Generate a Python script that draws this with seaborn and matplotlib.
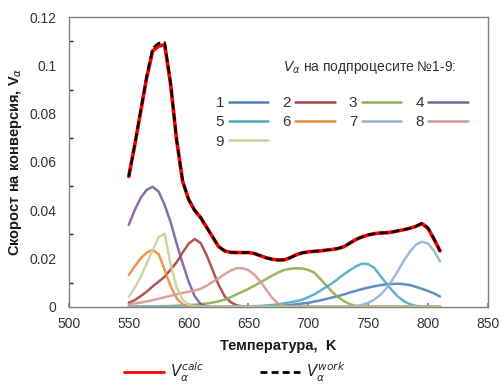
import matplotlib
matplotlib.use('Agg')
import matplotlib.pyplot as plt
from matplotlib.lines import Line2D
from matplotlib.ticker import MultipleLocator
import seaborn as sns
import pandas as pd

# temperature grid, K
temps = [550, 555, 560, 565, 570, 575, 580, 585, 590, 595,
         600, 605, 610, 615, 620, 625, 630, 635, 640, 645,
         650, 655, 660, 665, 670, 675, 680, 685, 690, 695,
         700, 705, 710, 715, 720, 725, 730, 735, 740, 745,
         750, 755, 760, 765, 770, 775, 780, 785, 790, 795,
         800, 805, 810]

# rates of the sub-processes 1-9
v1 = [0, 0, 0, 0, 0, 0, 0, 0, 0, 0,
      0, 0, 0, 0, 0, 0, 0, 0.0001, 0.0001, 0.0001,
      0.0001, 0.0002, 0.0002, 0.0003, 0.0003, 0.0005, 0.0006, 0.0008, 0.0011, 0.0014,
      0.0017, 0.0022, 0.0027, 0.0033, 0.0039, 0.0045, 0.0052, 0.0060, 0.0067, 0.0074,
      0.0080, 0.0085, 0.0090, 0.0093, 0.0095, 0.0096, 0.0094, 0.0090, 0.0083, 0.0075,
      0.0066, 0.0056, 0.0043]
v2 = [0.0017, 0.0028, 0.0045, 0.0063, 0.0085, 0.0105, 0.0125, 0.0155, 0.0185, 0.0225,
      0.0262, 0.0281, 0.0265, 0.0215, 0.0153, 0.0092, 0.0045, 0.0020, 0.0007, 0.0002,
      0, 0, 0, 0, 0, 0, 0, 0, 0, 0,
      0, 0, 0, 0, 0, 0, 0, 0, 0, 0,
      0, 0, 0, 0, 0, 0, 0, 0, 0, 0,
      0, 0, 0]
v3 = [0.0001, 0.0001, 0.0001, 0.0002, 0.0002, 0.0003, 0.0003, 0.0004, 0.0005, 0.0006,
      0.0007, 0.0009, 0.0011, 0.0014, 0.0018, 0.0023, 0.0030, 0.0040, 0.0052, 0.0063,
      0.0075, 0.0088, 0.0102, 0.0116, 0.0130, 0.0143, 0.0153, 0.0158, 0.0160, 0.0159,
      0.0153, 0.0142, 0.0116, 0.0088, 0.0062, 0.0040, 0.0023, 0.0011, 0.0004, 0.0001,
      0, 0, 0, 0, 0, 0, 0, 0, 0, 0,
      0, 0, 0]
v4 = [0.0340, 0.0401, 0.0452, 0.0485, 0.0497, 0.0477, 0.0422, 0.0350, 0.0262, 0.0180,
      0.0105, 0.0045, 0.0012, 0.0002, 0, 0, 0, 0, 0, 0,
      0, 0, 0, 0, 0, 0, 0, 0, 0, 0,
      0, 0, 0, 0, 0, 0, 0, 0, 0, 0,
      0, 0, 0, 0, 0, 0, 0, 0, 0, 0,
      0, 0, 0]
v5 = [0, 0, 0, 0, 0, 0, 0, 0, 0, 0,
      0, 0, 0, 0, 0, 0, 0, 0, 0.0001, 0.0001,
      0.0002, 0.0003, 0.0004, 0.0006, 0.0008, 0.0011, 0.0015, 0.0019, 0.0024, 0.0030,
      0.0040, 0.0052, 0.0067, 0.0083, 0.0098, 0.0117, 0.0136, 0.0153, 0.0168, 0.0179,
      0.0177, 0.0162, 0.0130, 0.0098, 0.0068, 0.0042, 0.0023, 0.0011, 0.0004, 0.0001,
      0, 0, 0]
v6 = [0.0132, 0.0168, 0.0201, 0.0225, 0.0236, 0.0218, 0.0153, 0.0085, 0.0036, 0.0011,
      0.0002, 0, 0, 0, 0, 0, 0, 0, 0, 0,
      0, 0, 0, 0, 0, 0, 0, 0, 0, 0,
      0, 0, 0, 0, 0, 0, 0, 0, 0, 0,
      0, 0, 0, 0, 0, 0, 0, 0, 0, 0,
      0, 0, 0]
v7 = [0, 0, 0, 0, 0, 0, 0, 0, 0, 0,
      0, 0, 0, 0, 0, 0, 0, 0, 0, 0,
      0, 0, 0, 0, 0, 0, 0, 0, 0, 0,
      0, 0, 0, 0, 0.0001, 0.0001, 0.0002, 0.0002, 0.0004, 0.0009,
      0.0017, 0.0030, 0.0049, 0.0076, 0.0111, 0.0151, 0.0193, 0.0230, 0.0258, 0.0270,
      0.0262, 0.0232, 0.0188]
v8 = [0.0010, 0.0014, 0.0018, 0.0023, 0.0028, 0.0034, 0.0040, 0.0046, 0.0052, 0.0058,
      0.0063, 0.0068, 0.0075, 0.0088, 0.0103, 0.0118, 0.0135, 0.0150, 0.0160, 0.0160,
      0.0152, 0.0133, 0.0105, 0.0070, 0.0036, 0.0013, 0.0003, 0, 0, 0,
      0, 0, 0, 0, 0, 0, 0, 0, 0, 0,
      0, 0, 0, 0, 0, 0, 0, 0, 0, 0,
      0, 0, 0]
v9 = [0.0041, 0.0080, 0.0125, 0.0180, 0.0235, 0.0290, 0.0303, 0.0175, 0.0080, 0.0030,
      0.0008, 0.0001, 0, 0, 0, 0, 0, 0, 0, 0,
      0, 0, 0, 0, 0, 0, 0, 0, 0, 0,
      0, 0, 0, 0, 0, 0, 0, 0, 0, 0,
      0, 0, 0, 0, 0, 0, 0, 0, 0, 0,
      0, 0, 0]

# total rate: calculated and experimental
v_calc = [0.0540, 0.0670, 0.0810, 0.0950, 0.1060, 0.1080, 0.1085, 0.0920, 0.0690, 0.0520,
          0.0445, 0.0400, 0.0370, 0.0330, 0.0290, 0.0250, 0.0232, 0.0226, 0.0225, 0.0225,
          0.0225, 0.0221, 0.0212, 0.0203, 0.0197, 0.0194, 0.0195, 0.0204, 0.0216, 0.0224,
          0.0228, 0.0230, 0.0232, 0.0235, 0.0238, 0.0242, 0.0250, 0.0265, 0.0280, 0.0290,
          0.0298, 0.0303, 0.0306, 0.0307, 0.0310, 0.0315, 0.0320, 0.0326, 0.0334, 0.0345,
          0.0325, 0.0280, 0.0232]
v_work = [0.0540, 0.0672, 0.0815, 0.0955, 0.1072, 0.1092, 0.1095, 0.0925, 0.0690, 0.0520,
          0.0445, 0.0400, 0.0370, 0.0330, 0.0290, 0.0250, 0.0232, 0.0226, 0.0225, 0.0225,
          0.0225, 0.0221, 0.0212, 0.0203, 0.0197, 0.0194, 0.0195, 0.0204, 0.0216, 0.0224,
          0.0228, 0.0230, 0.0232, 0.0235, 0.0238, 0.0242, 0.0250, 0.0265, 0.0280, 0.0290,
          0.0298, 0.0303, 0.0306, 0.0307, 0.0310, 0.0315, 0.0320, 0.0326, 0.0334, 0.0347,
          0.0327, 0.0282, 0.0230]

names = ['1', '2', '3', '4', '5', '6', '7', '8', '9']
colors = ['#4F81BD', '#A8423F', '#8DB04E', '#7B5FA0', '#4BACC6',
          '#F08A3C', '#95B3D7', '#D99694', '#C3D69B']
series = [v1, v2, v3, v4, v5, v6, v7, v8, v9]

sns.set_theme(style='white')
plt.rcParams['font.family'] = ['Liberation Sans', 'DejaVu Sans']

fig = plt.figure(figsize=(5.03, 3.88), dpi=100)
ax = fig.add_axes([0.137, 0.209, 0.833, 0.747])

handles = []
for name, vals, c in zip(names, series, colors):
    df = pd.DataFrame({'T': temps, 'V': vals})
    sns.lineplot(data=df, x='T', y='V', color=c, lw=1.8, alpha=0.9, ax=ax)
    handles.append(Line2D([], [], color=c, lw=1.8))

sns.lineplot(x=temps, y=v_calc, color='#FF0000', lw=2.6, ax=ax)
sns.lineplot(x=temps, y=v_work, color='black', lw=1.8, dashes=False,
             linestyle=(0, (3.2, 1.6)), ax=ax)

ax.set_xlim(500, 850)
ax.set_ylim(0, 0.12)
ax.xaxis.set_major_locator(MultipleLocator(50))
ax.yaxis.set_minor_locator(MultipleLocator(0.01))
ax.set_yticks([0, 0.02, 0.04, 0.06, 0.08, 0.1, 0.12])
ax.set_yticklabels(['0', '0.02', '0.04', '0.06', '0.08', '0.1', '0.12'])
ax.tick_params(axis='both', labelsize=10, colors='#808080', labelcolor='#333333')
ax.tick_params(axis='x', direction='in', length=3, bottom=True, pad=7)
ax.tick_params(axis='y', which='major', length=0, left=True, pad=9)
ax.tick_params(axis='y', which='minor', direction='in', length=3, left=True)
for s in ax.spines.values():
    s.set_color('#808080')
    s.set_linewidth(1)

ax.set_xlabel('Температура,  K', fontsize=10.5, fontweight='bold', color='#1a1a1a', labelpad=6)
ax.set_ylabel(r'Скорост на конверсия, V$_\alpha$', fontsize=10.5, fontweight='bold',
              color='#1a1a1a', labelpad=4)

ax.text(0.51, 0.825, r'$V_\alpha$ на подпроцесите №1-9:', transform=ax.transAxes,
        fontsize=10, color='#333333', va='center', ha='left')

order = [0, 4, 8, 1, 5, 2, 6, 3, 7]
leg = ax.legend([handles[i] for i in order], [names[i] for i in order],
                ncol=4, markerfirst=False, frameon=False, loc='upper left',
                bbox_to_anchor=(0.35, 0.728), borderaxespad=0, borderpad=0,
                fontsize=11, handlelength=2.6, handletextpad=0.3,
                columnspacing=0.9, labelspacing=0.35)
for t in leg.get_texts():
    t.set_color('#333333')

calc_h = Line2D([], [], color='#FF0000', lw=2)
work_h = Line2D([], [], color='black', lw=2, linestyle=(0, (2.5, 1.5)))
fig.legend([calc_h, work_h], [r'$V_\alpha^{calc}$', r'$V_\alpha^{work}$'],
           ncol=2, loc='center', bbox_to_anchor=(0.467, 0.04), frameon=False,
           fontsize=11, handlelength=2.6, handletextpad=0.4, columnspacing=3.6)

fig.savefig('out.png', dpi=100)
